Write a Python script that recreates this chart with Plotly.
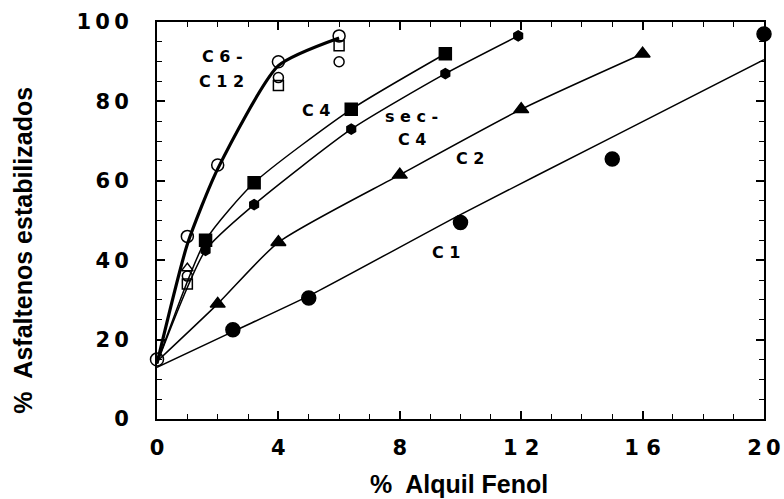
import plotly.graph_objects as go

# Common starting point (no additive)
x0 = [0]
y0 = [15]

# C6-C12 alkylphenols: main open markers and fitted trend
c612_x = [1, 2, 4, 6]
c612_y = [46, 64, 90, 96.5]
c612_extra_x = [1, 1, 1, 4, 4, 6, 6]
c612_extra_y = [38, 36, 34, 86, 84, 94, 90]
c612_fit_x = [0, 1, 2, 4, 6]
c612_fit_y = [14, 44, 63, 89, 96]

# C4 (filled squares)
c4_x = [1.6, 3.2, 6.4, 9.5]
c4_y = [45, 59.5, 78, 92]
c4_fit_x = [0, 1.6, 3.2, 6.4, 9.5]
c4_fit_y = [14, 45, 59.5, 78, 92]

# sec-C4 (filled hexagons)
sc4_x = [1.6, 3.2, 6.4, 9.5, 11.9]
sc4_y = [42.5, 54, 73, 87, 96.5]
sc4_fit_x = [0, 1.6, 3.2, 6.4, 9.5, 11.9]
sc4_fit_y = [14, 42.5, 54, 73, 87, 96.5]

# C2 (filled triangles)
c2_x = [2, 4, 8, 12, 16]
c2_y = [29, 44.5, 61.5, 78, 92]
c2_fit_x = [0, 2, 4, 8, 12, 16]
c2_fit_y = [14.5, 29, 44.5, 61.5, 78, 92]

# C1 (filled circles) and its fitted curve
c1_x = [2.5, 5, 10, 15, 20]
c1_y = [22.5, 30.5, 49.5, 65.5, 97]
c1_fit_x = [0, 2.5, 5, 10, 15, 20]
c1_fit_y = [13, 22, 31, 51.5, 71, 90.5]

TS = "\u2009"  # thin space between digits
x_ticks = [0, 4, 8, 12, 16, 20]
x_ticktext = ["0", "4", "8", "1 2", "1 6", "2" + TS + "0"]
y_ticks = [0, 20, 40, 60, 80, 100]
y_ticktext = ["0", "2" + TS + "0", "4" + TS + "0", "6" + TS + "0", "8" + TS + "0",
              "1" + TS + "0" + TS + "0"]

BLACK = "#000000"
FONT = "Liberation Sans"
BLOCK = "DejaVu Sans"
fig = go.Figure()

def curve(x, y, width):
    fig.add_trace(go.Scatter(x=x, y=y, mode="lines",
                             line=dict(color=BLACK, width=width, shape="spline", smoothing=0.6),
                             hoverinfo="skip", cliponaxis=False))

def marks(x, y, symbol, size, lw=1.5):
    fig.add_trace(go.Scatter(x=x, y=y, mode="markers",
                             marker=dict(symbol=symbol, size=size, color=BLACK,
                                         line=dict(color=BLACK, width=lw)),
                             cliponaxis=False))

curve(c1_fit_x, c1_fit_y, 1.5)
curve(c2_fit_x, c2_fit_y, 1.5)
curve(sc4_fit_x, sc4_fit_y, 1.5)
curve(c4_fit_x, c4_fit_y, 1.5)
curve(c612_fit_x, c612_fit_y, 3.2)

marks(c1_x, c1_y, "circle", 14)
marks(c2_x, c2_y, "triangle-up", 13)
marks(sc4_x, sc4_y, "hexagon", 10)
marks(c4_x, c4_y, "square", 12)
marks(c612_x, c612_y, "circle-open", 12)
fig.add_trace(go.Scatter(x=c612_extra_x, y=c612_extra_y, mode="markers",
                         marker=dict(symbol=["triangle-up-open", "circle-open", "square-open",
                                             "circle-open", "square-open",
                                             "square-open", "circle-open"],
                                     size=10, color=BLACK, line=dict(color=BLACK, width=1.5)),
                         cliponaxis=False))
marks(x0, y0, "circle-open", 13)

# Series labels inside the plot
label_font = dict(family=BLOCK, size=16, color=BLACK)
labels = [
    (2.17, 91.2, "C 6 -"),
    (2.14, 84.9, "C 1 2"),
    (5.24, 77.8, "C 4"),
    (8.37, 76.1, "s e c -"),
    (8.4, 70.3, "C 4"),
    (10.3, 65.5, "C 2"),
    (9.53, 42.0, "C 1"),
]
for lx, ly, txt in labels:
    fig.add_annotation(x=lx, y=ly, text="<b>" + txt + "</b>", showarrow=False,
                       font=label_font, xanchor="center", yanchor="middle")

# Axis titles
title_font = dict(family=FONT, size=25, color=BLACK)
fig.add_annotation(xref="paper", yref="paper", x=0.4975, y=-0.164,
                   text="<b>%  Alquil Fenol</b>", showarrow=False, font=title_font,
                   xanchor="center", yanchor="middle")
fig.add_annotation(xref="paper", yref="paper", x=-0.221, y=0.4257,
                   text="<b>%  Asfaltenos estabilizados</b>", showarrow=False, font=title_font,
                   textangle=-90, xanchor="center", yanchor="middle")

axis_common = dict(
    showgrid=False, zeroline=False, showline=True, linecolor=BLACK, linewidth=2,
    mirror="ticks", ticks="inside", ticklen=8, tickwidth=1.5, tickcolor=BLACK,
    tickfont=dict(family=BLOCK, size=21, color=BLACK), automargin=False,
)

fig.update_xaxes(
    range=[0, 20], tickvals=x_ticks, ticktext=["<b>" + t + "</b>" for t in x_ticktext],
    minor=dict(dtick=1, ticks="inside", ticklen=5, tickwidth=1.2, tickcolor=BLACK),
    ticklabelstandoff=9,
    **axis_common,
)
fig.update_yaxes(
    range=[0, 100], tickvals=y_ticks, ticktext=["<b>" + t + "</b>" for t in y_ticktext],
    minor=dict(dtick=5, ticks="inside", ticklen=5, tickwidth=1.2, tickcolor=BLACK),
    ticklabelstandoff=22,
    **axis_common,
)

fig.update_layout(
    width=784, height=499, showlegend=False,
    plot_bgcolor="white", paper_bgcolor="white",
    margin=dict(l=157, r=20, t=22, b=80),
)

fig.write_html("out.html")
